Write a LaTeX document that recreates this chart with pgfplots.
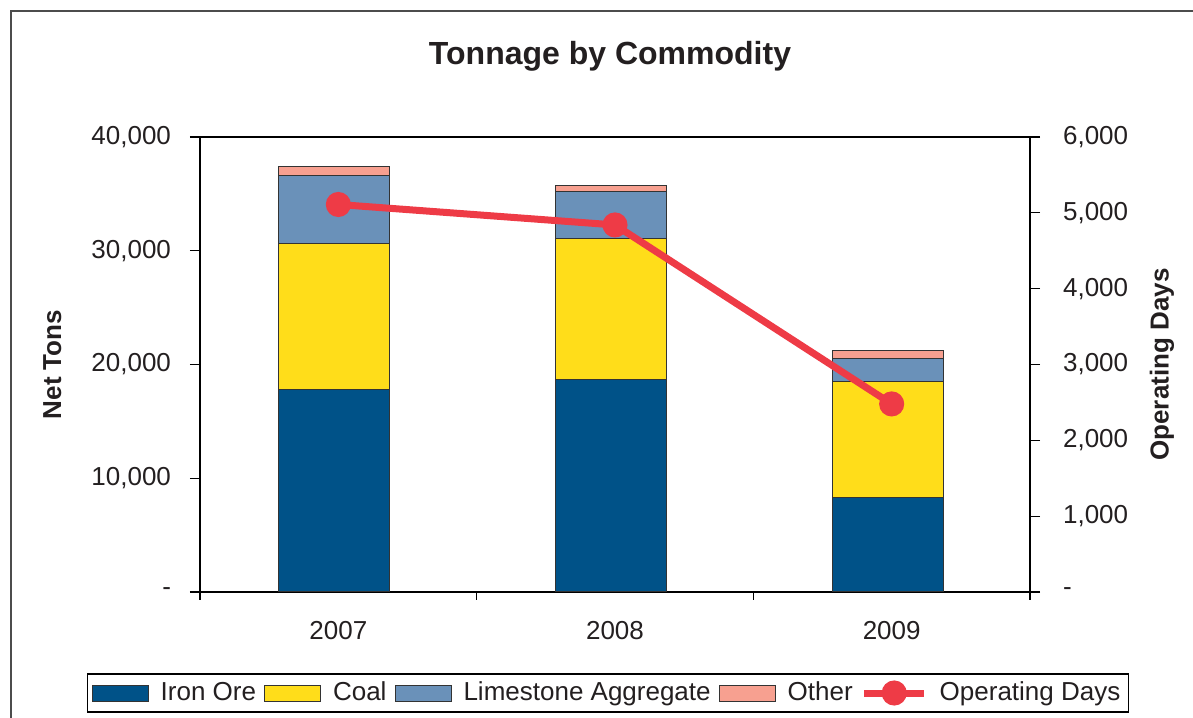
\documentclass[border=0pt]{standalone}
\usepackage{pgfplots}
\pgfplotsset{compat=1.18}
\usepackage{fontspec}
\setmainfont{Liberation Sans}
\definecolor{ironc}{RGB}{0,82,136}
\definecolor{coalc}{RGB}{255,221,26}
\definecolor{limec}{RGB}{106,145,185}
\definecolor{otherc}{RGB}{247,160,144}
\definecolor{redc}{RGB}{238,59,70}
\definecolor{textc}{RGB}{35,31,32}
\newcommand{\tf}{\fontsize{13}{15}\selectfont}
\begin{document}
\begin{tikzpicture}
\path[use as bounding box] (0,0) rectangle (596.5pt,358.5pt);
\draw[line width=1pt, black!70] (5.5pt,-5pt) -- (5.5pt,353pt) -- (610pt,353pt);
\node[font=\bfseries\fontsize{16}{19}\selectfont, text=textc] at (305pt,330.5pt) {Tonnage by Commodity};
\begin{axis}[
  at={(100pt,62.5pt)}, anchor=south west,
  width=415pt, height=227.5pt, scale only axis,
  ybar stacked, bar width=55.5pt, bar shift=-2pt,
  xmin=0, xmax=3, ymin=0, ymax=40000,
  scaled y ticks=false,
  xtick={0.5,1.5,2.5}, xticklabels={2007,2008,2009},
  minor xtick={0,1,2,3},
  major x tick style={draw=none},
  minor tick length=4pt,
  xtick pos=bottom, ytick pos=left,
  tick align=outside, major tick length=5pt,
  ytick={0,10000,20000,30000,40000},
  yticklabels={-,{10,000},{20,000},{30,000},{40,000}},
  ticklabel style={font=\tf, text=textc},
  xticklabel style={yshift=-6pt},
  yticklabel style={xshift=-6pt},
  axis line style={black, line width=0.6pt},
  tick style={black, line width=0.6pt},
  ylabel={Net Tons},
  ylabel style={font=\bfseries\tf, text=textc, at={(axis description cs:-0.178,0.5)}, anchor=center},
  every axis plot/.append style={draw=black!80, line width=0.5pt},
]
\addplot[fill=ironc] coordinates {(0.5,17800) (1.5,18640) (2.5,8330)};
\addplot[fill=coalc] coordinates {(0.5,12880) (1.5,12480) (2.5,10160)};
\addplot[fill=limec] coordinates {(0.5,5920) (1.5,4100) (2.5,2060)};
\addplot[fill=otherc] coordinates {(0.5,800) (1.5,560) (2.5,720)};
\end{axis}
\begin{axis}[
  at={(100pt,62.5pt)}, anchor=south west,
  width=415pt, height=227.5pt, scale only axis,
  xmin=0, xmax=3, ymin=0, ymax=6000,
  axis x line=none, axis y line*=right,
  tick align=outside, major tick length=5pt,
  ytick={0,1000,2000,3000,4000,5000,6000},
  yticklabels={-,{1,000},{2,000},{3,000},{4,000},{5,000},{6,000}},
  ticklabel style={font=\tf, text=textc},
  yticklabel style={xshift=8pt},
  axis line style={black, line width=0.6pt},
  tick style={black, line width=0.6pt},
  ylabel={Operating Days},
  ylabel style={font=\bfseries\tf, text=textc, at={(axis description cs:1.159,0.5)}, anchor=center},
  legend columns=5,
  legend style={at={(axis description cs:0.4916,-0.222)}, anchor=center, draw=black, line width=0.6pt,
    font=\tf, text=textc, inner sep=2pt,
    /tikz/every even column/.append style={column sep=2pt},
    /tikz/every odd column/.append style={column sep=4pt}},
  legend cell align=left,
  barleg/.style={legend image code/.code={\draw[##1, draw=black!80, line width=0.5pt] (0pt,-4pt) rectangle (28pt,4pt);}},
  lineleg/.style={legend image code/.code={\draw[##1, mark repeat=2, mark phase=2] plot coordinates {(0pt,0pt) (15pt,0pt) (30pt,0pt)};}},
]
\addlegendimage{barleg, fill=ironc}
\addlegendentry{Iron Ore}
\addlegendimage{barleg, fill=coalc}
\addlegendentry{Coal}
\addlegendimage{barleg, fill=limec}
\addlegendentry{Limestone Aggregate}
\addlegendimage{barleg, fill=otherc}
\addlegendentry{Other}
\addplot[color=redc, line width=3.5pt, mark=*, mark size=4.5pt, lineleg] coordinates {(0.5,5110) (1.5,4840) (2.5,2480)};
\addlegendentry{Operating Days}
\end{axis}
\end{tikzpicture}
\end{document}
